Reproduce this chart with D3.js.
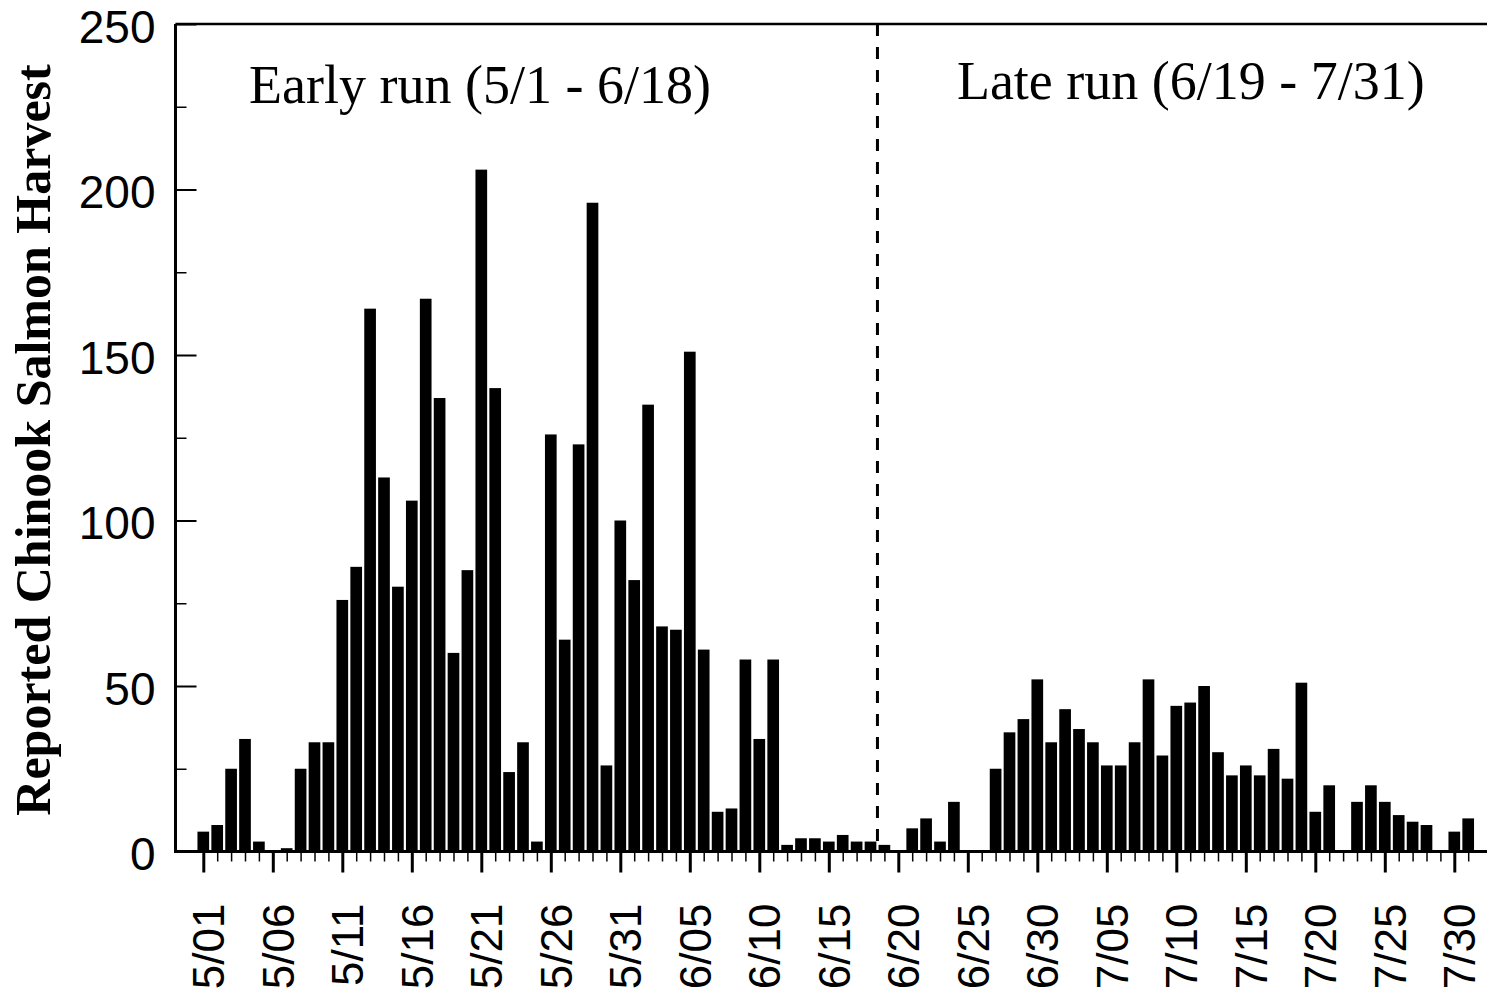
<!DOCTYPE html>
<html>
<head>
<meta charset="utf-8">
<script src="https://cdn.jsdelivr.net/npm/d3@7"></script>
<style>
  body { margin: 0; background: #fff; }
  svg { display: block; }
</style>
</head>
<body>
<svg id="chart" width="1487" height="995"></svg>
<script>
// daily reported harvest, one value per day
var mayHarvest = [6, 8, 25, 34, 3, 0, 1, 25, 33, 33, 76, 86, 164, 113, 80, 106, 167, 137, 60, 85,
  206, 140, 24, 33, 3, 126, 64, 123, 196, 26, 100];
var juneHarvest = [82, 135, 68, 67, 151, 61, 12, 13, 58, 34, 58, 2, 4, 4, 3, 5, 3, 3, 2, 0,
  7, 10, 3, 15, 0, 0, 25, 36, 40, 52];
var julyHarvest = [33, 43, 37, 33, 26, 26, 33, 52, 29, 44, 45, 50, 30, 23, 26, 23, 31, 22, 51, 12,
  20, 0, 15, 20, 15, 11, 9, 8, 0, 6, 10];

var xTickLabels = ["5/01", "5/06", "5/11", "5/16", "5/21", "5/26", "5/31", "6/05", "6/10", "6/15",
  "6/20", "6/25", "6/30", "7/05", "7/10", "7/15", "7/20", "7/25", "7/30"];
var yMajorTicks = [0, 50, 100, 150, 200, 250];
var yMinorTicks = [25, 75, 125, 175, 225];
var runLabels = ["Early run (5/1 - 6/18)", "Late run (6/19 - 7/31)"];
var runSplit = ["6/18", "6/19"];

function pad(n) { return n < 10 ? "0" + n : "" + n; }

var data = [];
[[5, mayHarvest], [6, juneHarvest], [7, julyHarvest]].forEach(function(m) {
  m[1].forEach(function(v, i) {
    data.push({ day: m[0] + "/" + pad(i + 1), value: v });
  });
});

var svg = d3.select("#chart");
var left = 175.5, step = 13.9;

var x = d3.scaleBand()
  .domain(data.map(function(d) { return d.day; }))
  .range([left, left + step * (data.length - 0.16 + 2 * 1.58)])
  .paddingInner(0.16)
  .paddingOuter(1.58);

var y = d3.scaleLinear().domain([0, 250]).range([851.5, 24]);

var bw = x.bandwidth();
function cx(d) { return x(d) + bw / 2; }

// bars
svg.append("g").selectAll("rect")
  .data(data)
  .enter().append("rect")
  .attr("x", function(d) { return x(d.day); })
  .attr("y", function(d) { return y(d.value); })
  .attr("width", bw)
  .attr("height", function(d) { return y(0) - y(d.value); })
  .attr("fill", "#000");

// x axis: minor ticks every day, major every 5 days
var xs = d3.scaleOrdinal().domain(data.map(function(d) { return d.day; }))
  .range(data.map(function(d) { return cx(d.day); }));

var xMinor = svg.append("g").attr("transform", "translate(0," + y(0) + ")")
  .call(d3.axisBottom(xs).tickSize(10).tickFormat(""));
xMinor.select(".domain").remove();
xMinor.selectAll("line").attr("stroke-width", 1.5);

var xMajor = svg.append("g").attr("transform", "translate(0," + y(0) + ")")
  .call(d3.axisBottom(xs).tickValues(xTickLabels).tickSize(21).tickPadding(0));
xMajor.select(".domain").remove();
xMajor.selectAll("line").attr("stroke-width", 3);
xMajor.selectAll("text")
  .attr("font-family", "'Liberation Sans', Arial, sans-serif")
  .attr("font-size", 44)
  .attr("fill", "#000")
  .attr("text-anchor", "end")
  .attr("transform", "translate(0,52) rotate(-90)")
  .attr("dy", "0.46em")
  .attr("y", 0)
  .attr("x", 0);

// y axis, ticks pointing inward
var yMajor = svg.append("g").attr("transform", "translate(" + left + ",0)")
  .call(d3.axisLeft(y).tickValues(yMajorTicks).tickSize(-21).tickPadding(20));
yMajor.select(".domain").remove();
yMajor.selectAll("line").attr("stroke-width", 2);
yMajor.selectAll("text")
  .attr("font-family", "'Liberation Sans', Arial, sans-serif")
  .attr("font-size", 46)
  .attr("dy", "0.4em")
  .attr("fill", "#000");

var yMinor = svg.append("g").attr("transform", "translate(" + left + ",0)")
  .call(d3.axisLeft(y).tickValues(yMinorTicks).tickSize(-11).tickFormat(""));
yMinor.select(".domain").remove();
yMinor.selectAll("line").attr("stroke-width", 1.5);

// frame
var right = x.range()[1];
svg.append("line").attr("x1", left).attr("x2", left).attr("y1", y(250)).attr("y2", y(0) + 1.5)
  .attr("stroke", "#000").attr("stroke-width", 3);
svg.append("line").attr("x1", left).attr("x2", right).attr("y1", y(0)).attr("y2", y(0))
  .attr("stroke", "#000").attr("stroke-width", 3);
svg.append("line").attr("x1", left).attr("x2", right).attr("y1", y(250)).attr("y2", y(250))
  .attr("stroke", "#000").attr("stroke-width", 2.5);

// split between early and late run
var splitX = (cx(runSplit[0]) + cx(runSplit[1])) / 2;
svg.append("line").attr("x1", splitX).attr("x2", splitX).attr("y1", y(250)).attr("y2", y(0))
  .attr("stroke", "#000").attr("stroke-width", 3).attr("stroke-dasharray", "12,11");

svg.append("text")
  .attr("x", cx("5/04") + 4)
  .attr("y", 103)
  .attr("font-family", "'Liberation Serif', 'Times New Roman', serif")
  .attr("font-size", 54)
  .text(runLabels[0]);
svg.append("text")
  .attr("x", cx("6/24") + 3)
  .attr("y", 99)
  .attr("font-family", "'Liberation Serif', 'Times New Roman', serif")
  .attr("font-size", 54)
  .text(runLabels[1]);

// y title
svg.append("text")
  .attr("transform", "translate(50,440) rotate(-90)")
  .attr("text-anchor", "middle")
  .attr("font-family", "'Liberation Serif', 'Times New Roman', serif")
  .attr("font-weight", "bold")
  .attr("font-size", 50)
  .text("Reported Chinook Salmon Harvest");
</script>
</body>
</html>
